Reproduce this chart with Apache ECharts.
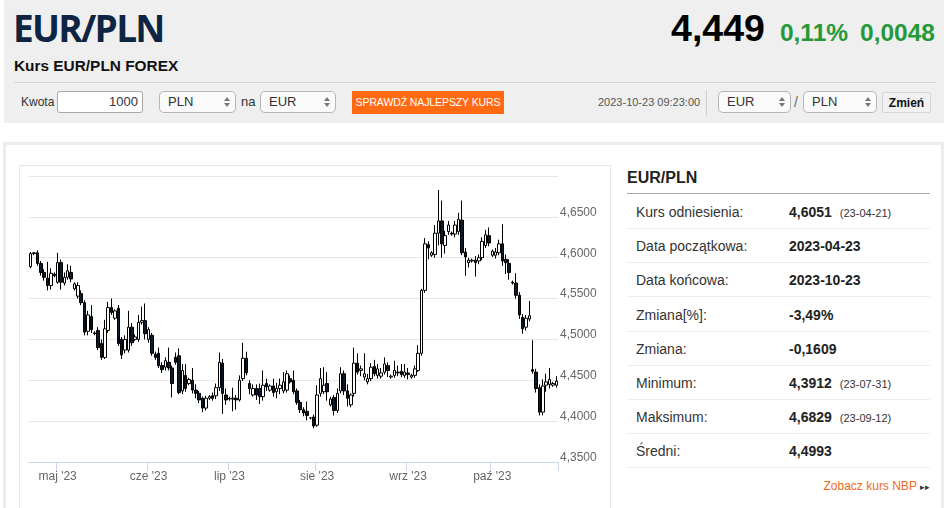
<!DOCTYPE html>
<html><head><meta charset="utf-8">
<script src="https://cdn.jsdelivr.net/npm/echarts/dist/echarts.min.js"></script>
<style>
html,body{margin:0;padding:0;background:#fff;}
body{width:948px;height:508px;overflow:hidden;position:relative;font-family:"Liberation Sans",Arial,sans-serif;color:#333;}
.abs{position:absolute;white-space:nowrap;}
#hdr{left:4px;top:0;width:940px;height:123px;background:#efefef;}
#title{left:13px;top:9px;font-family:"Open Sans",sans-serif;font-weight:700;font-size:37px;line-height:38px;letter-spacing:-1.7px;color:#0d2542;}
#sub{left:14px;top:57px;font-weight:bold;font-size:15.4px;line-height:18px;color:#111;}
#quote{right:13px;top:8px;line-height:40px;display:flex;align-items:baseline;}
#quote .big{font-weight:bold;font-size:37.5px;color:#000;margin-right:15px;}
#quote .g{font-weight:bold;font-size:24.5px;color:#25993a;}
#sep{left:14px;top:82px;width:922px;height:1px;background:#d4d4d4;}
.lbl{font-size:12px;line-height:22px;top:91px;color:#333;}
.inp{top:91px;height:20px;border:1px solid #a9a9a9;border-radius:3px;background:#fff;font-size:13px;line-height:20px;box-sizing:content-box;}
.sel{top:91px;height:20px;border:1px solid #b5b5b5;border-radius:5px;background:#fafafa;font-size:13px;line-height:20px;}
.sel span{position:absolute;left:8px;top:0;}
.arr{position:absolute;right:8px;top:5px;width:0;height:0;}
.arr:before{content:"";position:absolute;left:-3px;top:0;border-left:3px solid transparent;border-right:3px solid transparent;border-bottom:4px solid #777;}
.arr:after{content:"";position:absolute;left:-3px;top:6px;border-left:3px solid transparent;border-right:3px solid transparent;border-top:4px solid #777;}
#btn{left:352px;top:91px;width:152px;height:23px;background:#ff6a13;color:#fff;font-size:10.5px;line-height:23px;text-align:center;letter-spacing:-0.1px;}
#date{left:598px;top:91px;font-size:11px;line-height:22px;color:#555;}
#vsep{left:706px;top:90px;width:1px;height:26px;background:#cfcfcf;}
#zm{left:882px;top:92px;width:49px;height:21px;background:#f1f1f1;border:1px solid #d6d6d6;border-radius:2px;font-weight:bold;font-size:12px;line-height:21px;text-align:center;color:#111;box-sizing:border-box;}
#card{left:3px;top:142px;width:935px;height:380px;border:3px solid #ececec;}
#cbox{left:19px;top:165px;width:590px;height:360px;border:1px solid #e6e6e6;}
#chart{left:20px;top:166px;width:589px;height:342px;}
#tt{left:627px;top:168px;font-weight:bold;font-size:16px;line-height:20px;color:#222;}
#tline{left:627px;top:193px;width:303px;height:1px;background:#aaa;}
.row{left:627px;width:303px;height:34px;border-bottom:1px solid #ededed;box-sizing:border-box;font-size:14px;line-height:34px;}
.row .k{position:absolute;left:9px;top:0;color:#333;}
.row .v{position:absolute;left:162px;top:0;font-weight:bold;color:#222;}
.row .d{font-weight:normal;font-size:11px;margin-left:8px;color:#333;}
#nbp{right:18px;top:478px;font-size:12px;line-height:16px;color:#f26a1b;}
</style></head>
<body>
<div class="abs" id="hdr"></div>
<div class="abs" id="title">EUR/PLN</div>
<div class="abs" id="sub">Kurs EUR/PLN FOREX</div>
<div class="abs" id="quote"><span class="big">4,449</span><span class="g" style="margin-right:12px">0,11%</span><span class="g">0,0048</span></div>
<div class="abs" id="sep"></div>
<div class="abs lbl" style="left:21px">Kwota</div>
<div class="abs inp" style="left:57px;width:84px;text-align:right;"><span style="padding-right:4px">1000</span></div>
<div class="abs sel" style="left:159px;width:75px"><span>PLN</span><i class="arr"></i></div>
<div class="abs lbl" style="left:241px;font-size:13px">na</div>
<div class="abs sel" style="left:260px;width:74px"><span>EUR</span><i class="arr"></i></div>
<div class="abs" id="btn">SPRAWDŹ NAJLEPSZY KURS</div>
<div class="abs" id="date">2023-10-23 09:23:00</div>
<div class="abs" id="vsep"></div>
<div class="abs sel" style="left:718px;width:71px"><span>EUR</span><i class="arr"></i></div>
<div class="abs lbl" style="left:794px;font-size:14px;color:#666">/</div>
<div class="abs sel" style="left:803px;width:72px"><span>PLN</span><i class="arr"></i></div>
<div class="abs" id="zm">Zmień</div>

<div class="abs" id="card"></div>
<div class="abs" id="cbox"></div>
<div class="abs" id="chart"></div>

<div class="abs" id="tt">EUR/PLN</div>
<div class="abs" id="tline"></div>
<div id="rows"></div>
<div class="abs" id="nbp">Zobacz kurs NBP <span style="font-size:9px;color:#333">&#9656;&#9656;</span></div>

<script>
// ---- data ----
const dates = [
'2023-04-21','2023-04-23','2023-04-24','2023-04-25','2023-04-26','2023-04-27','2023-04-28','2023-04-30',
'2023-05-01','2023-05-02','2023-05-03','2023-05-04','2023-05-05','2023-05-07','2023-05-08','2023-05-09','2023-05-10','2023-05-11','2023-05-12','2023-05-14','2023-05-15','2023-05-16','2023-05-17','2023-05-18','2023-05-19','2023-05-21','2023-05-22','2023-05-23','2023-05-24','2023-05-25','2023-05-26','2023-05-28','2023-05-29','2023-05-30','2023-05-31',
'2023-06-01','2023-06-02','2023-06-04','2023-06-05','2023-06-06','2023-06-07','2023-06-09','2023-06-12','2023-06-13','2023-06-14','2023-06-15','2023-06-16','2023-06-18','2023-06-19','2023-06-20','2023-06-21','2023-06-22','2023-06-23','2023-06-25','2023-06-26','2023-06-27','2023-06-28','2023-06-29','2023-06-30',
'2023-07-02','2023-07-03','2023-07-04','2023-07-05','2023-07-06','2023-07-07','2023-07-09','2023-07-10','2023-07-11','2023-07-12','2023-07-13','2023-07-14','2023-07-16','2023-07-17','2023-07-18','2023-07-19','2023-07-20','2023-07-21','2023-07-23','2023-07-24','2023-07-25','2023-07-26','2023-07-27','2023-07-28','2023-07-30','2023-07-31',
'2023-08-01','2023-08-02','2023-08-03','2023-08-04','2023-08-06','2023-08-07','2023-08-08','2023-08-09','2023-08-10','2023-08-11','2023-08-13','2023-08-14','2023-08-15','2023-08-16','2023-08-17','2023-08-18','2023-08-20','2023-08-21','2023-08-22','2023-08-23','2023-08-24','2023-08-25','2023-08-27','2023-08-28','2023-08-29','2023-08-30','2023-08-31',
'2023-09-01','2023-09-03','2023-09-04','2023-09-05','2023-09-06','2023-09-07','2023-09-08','2023-09-10','2023-09-11','2023-09-12','2023-09-13','2023-09-14','2023-09-15','2023-09-17','2023-09-18','2023-09-19','2023-09-20','2023-09-21','2023-09-22','2023-09-24','2023-09-25','2023-09-26','2023-09-27','2023-09-28','2023-09-29',
'2023-10-01','2023-10-02','2023-10-03','2023-10-04','2023-10-05','2023-10-06','2023-10-08','2023-10-09','2023-10-10','2023-10-11','2023-10-12','2023-10-13','2023-10-15','2023-10-16','2023-10-17','2023-10-18','2023-10-19','2023-10-20','2023-10-22','2023-10-23'
];
const opens = [
4.589,4.605,4.606,4.593,4.582,4.575,4.566,4.580,4.570,4.594,4.569,4.576,4.582,4.562,4.553,4.556,4.545,4.510,4.528,4.507,
4.511,4.495,4.478,4.511,4.539,4.526,4.538,4.500,4.487,4.487,4.515,4.500,4.500,4.521,4.523,4.500,4.505,4.482,4.483,4.468,
4.466,4.472,4.465,4.478,4.480,4.437,4.456,4.446,4.450,4.438,4.434,4.428,4.416,4.428,4.431,4.431,4.441,4.471,4.432,4.427,
4.427,4.428,4.426,4.452,4.477,4.446,4.432,4.440,4.440,4.430,4.446,4.438,4.443,4.436,4.440,4.437,4.438,4.452,4.450,4.437,
4.423,4.414,4.412,4.404,4.405,4.395,4.434,4.436,4.446,4.420,4.429,4.413,4.437,4.458,4.437,4.420,4.434,4.471,4.462,4.454,
4.448,4.452,4.467,4.456,4.455,4.460,4.468,4.454,4.456,4.460,4.461,4.456,4.459,4.454,4.456,4.462,4.483,4.560,4.616,4.603,
4.604,4.630,4.645,4.615,4.632,4.630,4.629,4.632,4.646,4.607,4.594,4.596,4.597,4.596,4.600,4.615,4.627,4.603,4.603,4.606,
4.617,4.598,4.593,4.570,4.569,4.554,4.527,4.515,4.525,4.463,4.460,4.441,4.411,4.444,4.445,4.444,4.444
];
const closes = [
4.605,4.606,4.593,4.582,4.576,4.566,4.581,4.578,4.594,4.570,4.576,4.584,4.574,4.568,4.566,4.545,4.509,4.530,4.512,4.508,
4.490,4.478,4.513,4.539,4.533,4.535,4.495,4.481,4.500,4.515,4.496,4.503,4.521,4.523,4.507,4.512,4.483,4.478,4.468,4.463,
4.474,4.465,4.446,4.472,4.435,4.462,4.440,4.451,4.438,4.434,4.426,4.416,4.428,4.430,4.428,4.441,4.472,4.434,4.426,4.428,
4.428,4.426,4.450,4.477,4.459,4.440,4.440,4.432,4.430,4.444,4.442,4.443,4.435,4.440,4.444,4.448,4.458,4.448,4.436,4.423,
4.414,4.410,4.407,4.404,4.394,4.432,4.452,4.444,4.436,4.427,4.413,4.434,4.458,4.437,4.428,4.432,4.471,4.460,4.464,4.458,
4.452,4.466,4.458,4.464,4.459,4.470,4.462,4.455,4.462,4.459,4.457,4.460,4.457,4.456,4.464,4.483,4.560,4.617,4.612,4.606,
4.630,4.645,4.617,4.627,4.640,4.629,4.640,4.647,4.606,4.601,4.597,4.597,4.594,4.600,4.620,4.628,4.618,4.608,4.607,4.617,
4.596,4.594,4.582,4.569,4.554,4.530,4.513,4.526,4.529,4.461,4.440,4.411,4.443,4.448,4.451,4.446,4.449
];
const lows = [
4.587,4.603,4.590,4.578,4.572,4.560,4.561,4.576,4.568,4.561,4.566,4.573,4.570,4.560,4.550,4.542,4.505,4.505,4.508,4.505,
4.487,4.475,4.476,4.508,4.530,4.524,4.492,4.476,4.483,4.484,4.492,4.498,4.497,4.518,4.500,4.496,4.480,4.475,4.465,4.459,
4.462,4.462,4.429,4.469,4.433,4.433,4.436,4.444,4.434,4.428,4.422,4.411,4.413,4.426,4.425,4.427,4.437,4.409,4.420,4.425,
4.412,4.414,4.424,4.449,4.456,4.433,4.430,4.426,4.421,4.425,4.437,4.436,4.430,4.428,4.433,4.434,4.435,4.446,4.433,4.420,
4.410,4.406,4.401,4.402,4.3912,4.393,4.430,4.433,4.425,4.418,4.407,4.410,4.434,4.432,4.418,4.417,4.430,4.457,4.455,4.450,
4.445,4.449,4.455,4.452,4.452,4.457,4.454,4.452,4.453,4.455,4.454,4.453,4.451,4.452,4.453,4.460,4.480,4.557,4.598,4.601,
4.600,4.615,4.600,4.605,4.628,4.627,4.625,4.628,4.603,4.578,4.588,4.594,4.577,4.592,4.597,4.612,4.614,4.601,4.599,4.603,
4.590,4.580,4.573,4.567,4.550,4.525,4.507,4.511,4.522,4.458,4.435,4.407,4.407,4.436,4.440,4.442,4.441
];
const highs = [
4.607,4.607,4.609,4.596,4.586,4.595,4.587,4.582,4.606,4.598,4.582,4.592,4.590,4.570,4.570,4.560,4.548,4.535,4.542,4.510,
4.515,4.500,4.524,4.546,4.550,4.537,4.542,4.503,4.505,4.535,4.520,4.506,4.530,4.540,4.544,4.515,4.508,4.485,4.490,4.472,
4.478,4.490,4.468,4.484,4.489,4.470,4.470,4.453,4.465,4.445,4.437,4.430,4.431,4.432,4.435,4.446,4.484,4.476,4.440,4.430,
4.441,4.432,4.456,4.496,4.485,4.450,4.445,4.445,4.446,4.462,4.452,4.445,4.452,4.447,4.452,4.460,4.462,4.456,4.462,4.440,
4.426,4.417,4.424,4.405,4.408,4.444,4.465,4.466,4.460,4.430,4.432,4.440,4.466,4.462,4.445,4.434,4.490,4.483,4.468,4.483,
4.458,4.471,4.475,4.470,4.465,4.478,4.472,4.457,4.474,4.468,4.470,4.470,4.465,4.458,4.468,4.493,4.562,4.624,4.620,4.608,
4.640,4.6829,4.670,4.633,4.645,4.632,4.645,4.655,4.670,4.612,4.600,4.599,4.602,4.604,4.625,4.634,4.637,4.610,4.612,4.622,
4.641,4.604,4.598,4.572,4.581,4.558,4.531,4.530,4.547,4.499,4.464,4.445,4.451,4.458,4.465,4.448,4.455
];
const monthKeys = ['05','06','07','08','09','10'];
const monthLabels = ["maj '23","cze '23","lip '23","sie '23","wrz '23","paź '23"];
const yTicks = [4.35,4.40,4.45,4.50,4.55,4.60,4.65,4.70];

const tableLabels = ['Kurs odniesienia:','Data początkowa:','Data końcowa:','Zmiana[%]:','Zmiana:','Minimum:','Maksimum:','Średni:'];
const tableValues = ['4,6051','2023-04-23','2023-10-23','-3,49%','-0,1609','4,3912','4,6829','4,4993'];
const tableDates = ['(23-04-21)','','','','','(23-07-31)','(23-09-12)',''];

// ---- table ----
const rowsEl = document.getElementById('rows');
tableLabels.forEach((l,i)=>{
  const r=document.createElement('div');
  r.className='abs row';
  r.style.top=(195+i*34.2)+'px';
  r.innerHTML='<span class="k">'+l+'</span><span class="v">'+tableValues[i]+(tableDates[i]?'<span class="d">'+tableDates[i]+'</span>':'')+'</span>';
  rowsEl.appendChild(r);
});

// ---- chart ----
const ohlc = dates.map((d,i)=>[opens[i],closes[i],lows[i],highs[i]]);
const isMonthStart = dates.map((d,i)=> i>0 && d.slice(5,7)!==dates[i-1].slice(5,7));
const chart = echarts.init(document.getElementById('chart'), null, {renderer:'canvas'});
chart.setOption({
  animation:false,
  grid:{left:9,right:51,top:10,bottom:46},
  xAxis:{
    type:'category', data:dates, boundaryGap:true,
    axisLine:{lineStyle:{color:'#ccd6eb',width:1}},
    axisTick:{show:true,length:9,lineStyle:{color:'#ccd6eb'},interval:(idx)=>isMonthStart[idx]},
    axisLabel:{interval:(idx)=>isMonthStart[idx], margin:9, color:'#666', fontSize:12, fontFamily:'Liberation Sans',
      formatter:(v)=>{const k=monthKeys.indexOf(v.slice(5,7));return k>=0?monthLabels[k]:'';}},
    splitLine:{show:false}
  },
  yAxis:{
    type:'value', position:'right', min:yTicks[0], max:yTicks[yTicks.length-1], interval:0.05,
    axisLine:{show:false}, axisTick:{show:false},
    splitLine:{lineStyle:{color:'#e6e6e6',width:1}},
    axisLabel:{margin:2, color:'#666', fontSize:12, fontFamily:'Liberation Sans', verticalAlign:'bottom', lineHeight:9,
      formatter:(v)=> Math.abs(v-yTicks[yTicks.length-1])<1e-6 ? '' : v.toFixed(4).replace('.',',')}
  },
  series:[{
    type:'candlestick', data:ohlc, barWidth:3,
    itemStyle:{color:'#ffffff',color0:'#0c1a2c',borderColor:'#000000',borderColor0:'#000000',borderWidth:1}
  }]
});
</script>
</body></html>
